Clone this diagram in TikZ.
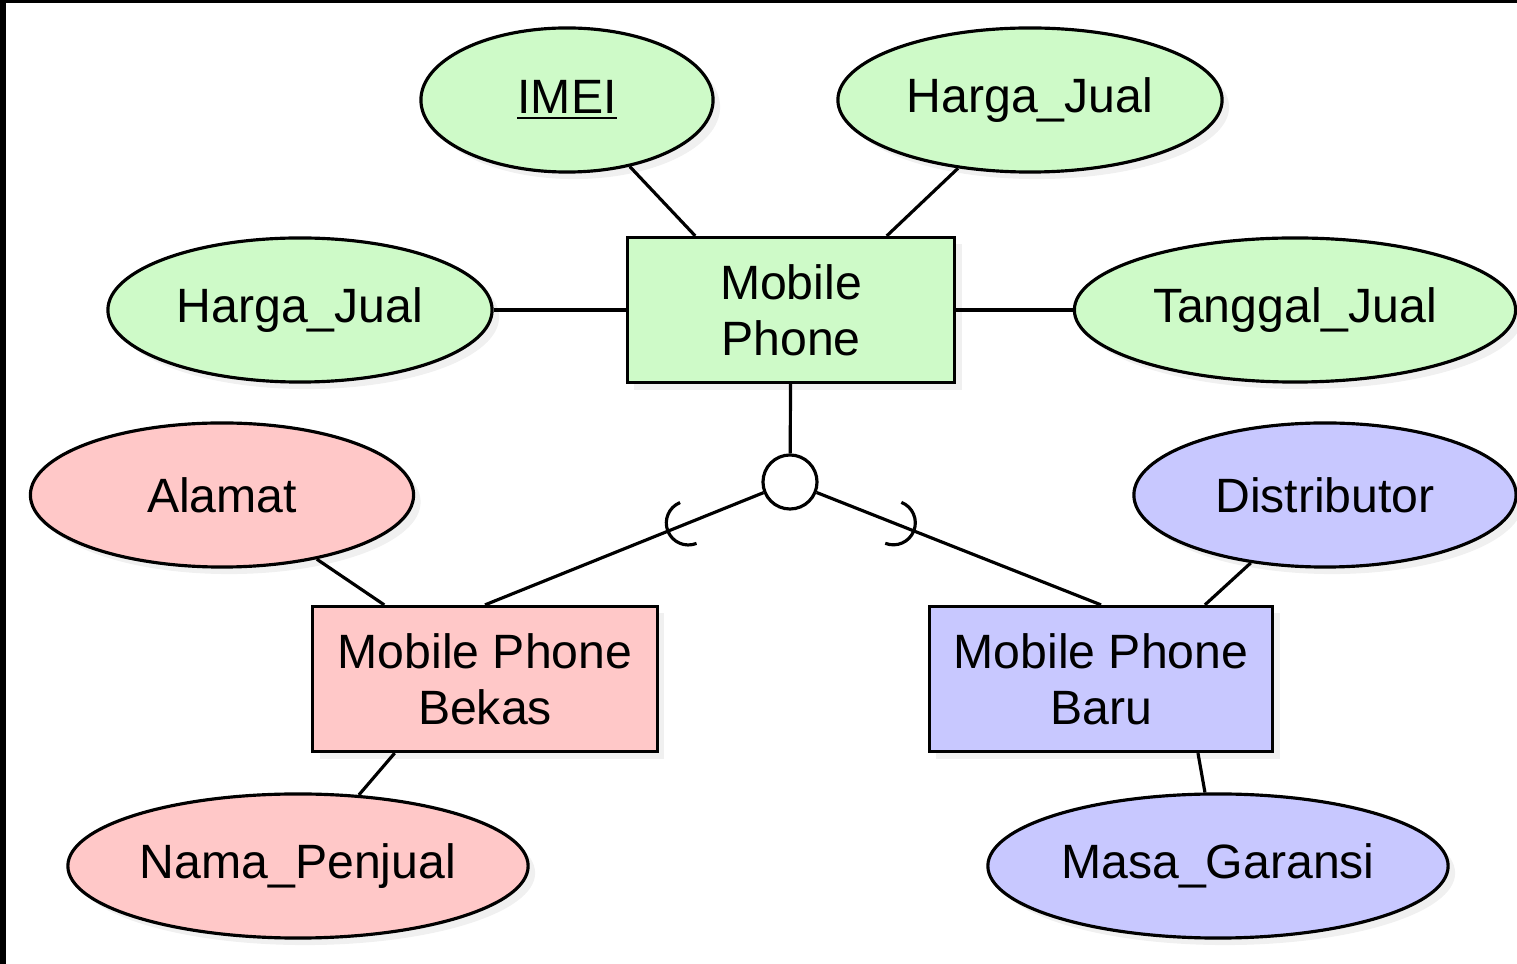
\documentclass[tikz,border=0pt]{standalone}
\usepackage{fontspec}
\setmainfont{Liberation Sans}
\usepackage{tikz}
\usetikzlibrary{positioning,shapes,shadows,calc,decorations.markings}
\definecolor{lightgreen}{RGB}{206,250,200}
\definecolor{lightred}{RGB}{255,200,200}
\definecolor{lightviolet}{RGB}{200,200,255}
\tikzstyle{ent}=[%
      rectangle, draw=black, line width=0.9pt, drop shadow={opacity=0.12, shadow xshift=2pt, shadow yshift=-2pt},
      minimum height=1.45cm, inner sep=2pt, align=center
]
\tikzstyle{att}=[%
      ellipse, draw=black, line width=0.9pt, drop shadow={opacity=0.12, shadow xshift=2pt, shadow yshift=-2pt},
      minimum height=1.44cm, inner sep=0pt
]
\tikzstyle{isa}=[%
      circle, draw=black, line width=0.9pt, fill=white, minimum size=0.54cm, inner sep=0pt
]
\tikzstyle{sub}=[%
      postaction={decorate},
      decoration={markings, mark=at position 0.27 with {\draw (0,0.22cm) arc[start angle=90, end angle=-90, radius=0.22cm];}}
]

\begin{document}
\begin{tikzpicture}[x=0.01cm, y=-0.01cm, line width=0.9pt,
    font=\fontsize{13.7}{16}\selectfont
  ]
    \useasboundingbox (0,0) rectangle (1517,964);
    \fill[black] (0,0) rectangle (6,964);
    \fill[black] (0,0) rectangle (1517,3);

    % entities
    \node[ent, fill=lightgreen, minimum width=3.27cm]  (mp)    at (791,310)  {Mobile\\Phone};
    \node[ent, fill=lightred, minimum width=3.44cm]    (bekas) at (485,679)  {Mobile Phone\\Bekas};
    \node[ent, fill=lightviolet, minimum width=3.43cm] (baru)  at (1101,679) {Mobile Phone\\Baru};
    \node[isa] (sub) at (790,482) {};

    % attributes
    \node[att, fill=lightgreen, minimum width=2.92cm]  (imei)    at (567,100)  {\underline{IMEI}};
    \node[att, fill=lightgreen, minimum width=3.84cm]  (hjtop)   at (1030,100) {Harga\_Jual};
    \node[att, fill=lightgreen, minimum width=3.84cm]  (hjleft)  at (300,310)  {Harga\_Jual};
    \node[att, fill=lightgreen, minimum width=4.41cm]  (tgl)     at (1295,310) {Tanggal\_Jual};
    \node[att, fill=lightred, minimum width=3.83cm]    (alamat)  at (222,495)  {Alamat};
    \node[att, fill=lightred, minimum width=4.60cm]    (nama)    at (298,866)  {Nama\_Penjual};
    \node[att, fill=lightviolet, minimum width=3.82cm] (distr)   at (1325,495) {Distributor};
    \node[att, fill=lightviolet, minimum width=4.60cm] (garansi) at (1218,866) {Masa\_Garansi};

    \path (imei) edge ($(mp.north west)!0.21!(mp.north east)$)
          (hjtop) edge ($(mp.north west)!0.79!(mp.north east)$)
          (hjleft) edge (mp)
          (tgl) edge (mp)
          (mp) edge (sub)
          (sub) edge[sub] (bekas.north)
          (sub) edge[sub] (baru.north)
          (alamat) edge ($(bekas.north west)!0.21!(bekas.north east)$)
          (nama) edge ($(bekas.south west)!0.24!(bekas.south east)$)
          (distr) edge ($(baru.north west)!0.8!(baru.north east)$)
          (garansi) edge ($(baru.south west)!0.78!(baru.south east)$)
    ;

  \end{tikzpicture}
\end{document}
